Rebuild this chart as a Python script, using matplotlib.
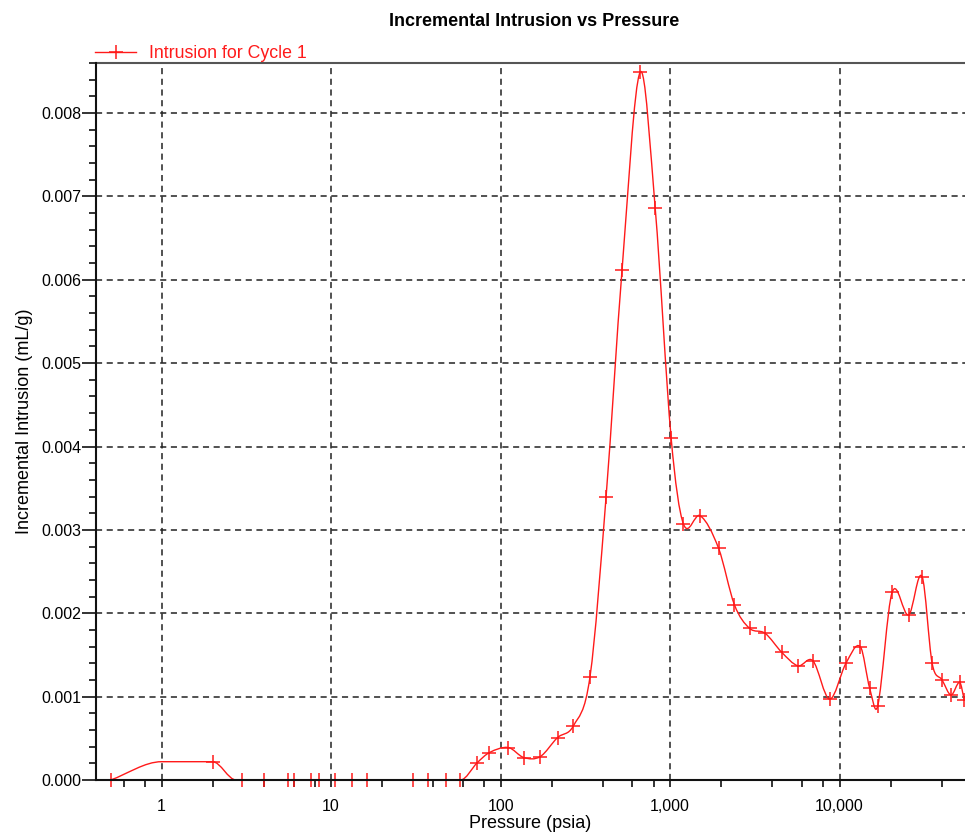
import matplotlib
matplotlib.use("Agg")
import matplotlib.pyplot as plt
import matplotlib.ticker as mticker
from matplotlib.path import Path
from matplotlib.patches import PathPatch
from matplotlib.lines import Line2D
import numpy as np

plt.rcParams['font.family'] = ['Liberation Sans', 'DejaVu Sans']

# pressure (psia) and incremental intrusion (mL/g)
pressure = [0.5, 1.0, 2.0, 2.75, 3.0, 4.0, 5.6, 6.0, 7.6, 8.5, 10.6, 13.2, 16.3,
            30.4, 37.3, 47.4, 58.0, 73, 86, 111, 137, 171, 217, 269, 337, 419,
            521, 666, 817, 1015, 1200, 1506, 1933, 2400, 2943, 3636, 4570, 5687,
            6968, 8745, 10910, 13270, 15070, 16800, 20420, 25600, 30700, 35200,
            40300, 45500, 51200, 54500]
intrusion = [0.0, 0.00022, 0.00022, 0.0, 0.0, 0.0, 0.0, 0.0, 0.0, 0.0, 0.0, 0.0, 0.0,
             0.0, 0.0, 0.0, 0.0, 0.00021, 0.00033, 0.00039, 0.00027, 0.00028,
             0.00051, 0.00065, 0.00124, 0.00339, 0.00612, 0.00849, 0.00686, 0.0041,
             0.00307, 0.00317, 0.00278, 0.0021, 0.00182, 0.00176, 0.00153, 0.00137,
             0.00143, 0.00097, 0.0014, 0.0016, 0.0011, 0.00089, 0.00225, 0.00198,
             0.00244, 0.0014, 0.0012, 0.00102, 0.00117, 0.00096]
# points on the line that carry no marker
no_marker = [1, 3]

RED = '#ff1a1a'

fig = plt.figure(figsize=(9.65, 8.34), dpi=100)
ax = fig.add_axes([0.0995, 0.0647, 0.9005, 0.8598])
ax.set_xscale('log')
ax.set_xlim(0.41, 55000)
ax.set_ylim(0, 0.0086)

# smooth curve through the points (cubic Hermite in log-pressure)
lx = np.log10(pressure)
y = np.array(intrusion)
n = len(lx)
slope = np.zeros(n)
slope[0] = (y[1] - y[0]) / (lx[1] - lx[0])
slope[-1] = (y[-1] - y[-2]) / (lx[-1] - lx[-2])
slope[1:-1] = (y[2:] - y[:-2]) / (lx[2:] - lx[:-2])
# keep flat where a neighbour segment is flat
for i in range(1, n - 1):
    if y[i] == y[i - 1] or y[i] == y[i + 1]:
        slope[i] = 0.0
verts = [(pressure[0], y[0])]
codes = [Path.MOVETO]
for i in range(n - 1):
    h = lx[i + 1] - lx[i]
    verts += [(10 ** (lx[i] + h / 3), y[i] + slope[i] * h / 3),
              (10 ** (lx[i + 1] - h / 3), y[i + 1] - slope[i + 1] * h / 3),
              (pressure[i + 1], y[i + 1])]
    codes += [Path.CURVE4] * 3
ax.add_patch(PathPatch(Path(verts, codes), facecolor='none', edgecolor=RED,
                       lw=1.0, zorder=3))

marks = [i for i in range(n) if i not in no_marker]
ax.plot(pressure, intrusion, linestyle='none', color=RED, marker='+', ms=10,
        mew=1.1, markevery=marks, clip_on=False, zorder=3)

ax.xaxis.set_major_locator(mticker.LogLocator(base=10, numticks=10))
ax.xaxis.set_minor_locator(mticker.LogLocator(base=10, subs=[2, 4, 6, 8], numticks=20))
ax.xaxis.set_major_formatter(mticker.FuncFormatter(lambda v, p: f"{v:,.0f}"))
ax.xaxis.set_minor_formatter(mticker.NullFormatter())
ax.yaxis.set_major_locator(mticker.MultipleLocator(0.001))
ax.yaxis.set_minor_locator(mticker.MultipleLocator(0.0002))
ax.yaxis.set_major_formatter(mticker.FormatStrFormatter('%.3f'))

ax.tick_params(which='both', direction='out', width=1.2, color='#111111')
ax.tick_params(axis='y', which='major', length=10, pad=0.5, labelsize=11.5)
ax.tick_params(axis='y', which='minor', length=5)
ax.tick_params(axis='x', which='both', length=5, pad=9, labelsize=11.5)
ax.grid(True, which='major', linestyle=(0, (4, 3)), color='#222222', lw=1.1)

ax.spines['right'].set_visible(False)
for s in ['left', 'bottom']:
    ax.spines[s].set_linewidth(1.5)
    ax.spines[s].set_color('#111111')
    ax.spines[s].set_zorder(4)
ax.spines['top'].set_linewidth(1.5)
ax.spines['top'].set_color('#555555')

ax.set_xlabel('Pressure (psia)', fontsize=13, labelpad=0.5)
ax.set_ylabel('Incremental Intrusion (mL/g)', fontsize=13)
ax.yaxis.set_label_coords(-0.073, 0.5)
fig.text(0.554, 0.974, 'Incremental Intrusion vs Pressure', ha='center',
         va='center', fontsize=13, fontweight='bold')

handle = Line2D([], [], color=RED, lw=1.0, marker='+', ms=10, mew=1.1)
leg = ax.legend([handle], ['Intrusion for Cycle 1'], loc='lower left',
                bbox_to_anchor=(-0.003, 0.999), frameon=False, fontsize=12.8,
                handlelength=2.3, borderaxespad=0, borderpad=0.1,
                handletextpad=0.7)
for t in leg.get_texts():
    t.set_color(RED)

fig.savefig('out.png', dpi=100)
